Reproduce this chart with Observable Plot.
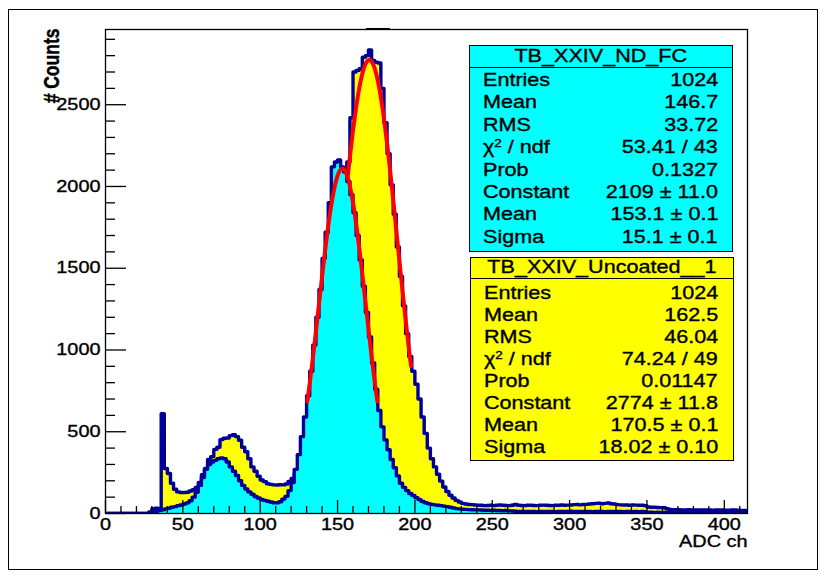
<!DOCTYPE html>
<html>
<head>
<meta charset="utf-8">
<script src="https://cdn.jsdelivr.net/npm/d3@7"></script>
<script src="https://cdn.jsdelivr.net/npm/@observablehq/plot@0.6"></script>
<style>
  html, body { margin: 0; padding: 0; background: #fff; }
  #wrap { position: relative; width: 826px; height: 582px; font-family: "Liberation Sans", Arial, sans-serif; }
  #wrap svg { position: absolute; left: 0; top: 0; }
  #wrap svg text { stroke: #000; stroke-width: 0.35px; }
  .outer { position: absolute; left: 8px; top: 9px; width: 810px; height: 561px; border: 1.5px solid #000; box-sizing: border-box; pointer-events: none; }
  .topmark { position: absolute; left: 366px; top: 27.5px; width: 24px; height: 2.5px; background: #000; }
  .stat { position: absolute; border: 1.5px solid #000; box-sizing: border-box; color: #000; font-size: 17.7px; -webkit-text-stroke: 0.35px #000; }
  .stat .hdr { position: absolute; left: 0; right: 0; top: 0; border-bottom: 1.5px solid #000; text-align: center; white-space: nowrap; }
  .stat .hdr span { display: inline-block; transform: scaleX(1.22); transform-origin: center; }
  .stat .row { position: absolute; left: 0; right: 0; white-space: nowrap; }
  .stat .row .l { position: absolute; transform: scaleX(1.22); transform-origin: left center; }
  .stat .row .v { position: absolute; transform: scaleX(1.22); transform-origin: right center; }
  sup { font-size: 0.62em; vertical-align: 0.55em; line-height: 0; }
</style>
</head>
<body>
<div id="wrap"></div>
<script>
// ---------------- data ----------------
const binStart = 0;
const binWidth = 2;  // ADC channels per bin

// TB_XXIV_Uncoated__1 (yellow), counts per 2-channel bin starting at channel 0
const uncoated = [
  0,0,0,0,0,0,0,0,0,0,0,0,0,0,           // 0-28
  10,30,32,30,610,275,245,185,148,132,   // 28-48
  128,128,130,138,145,160,190,238,275,330, // 48-68
  348,392,405,452,460,462,476,482,470,448, // 68-88
  405,378,335,285,258,228,205,195,182,178, // 88-108
  175,174,176,175,180,196,215,240,262,285, // 108-128
  320,370,440,520,610,720,850,990,1150,1320, // 128-148
  1490,1660,1840,2000,2150,2420,2700,2710,2720,2790, // 148-168
  2800,2835,2770,2760,2755,2600,2390,2200,2010,1830, // 168-188
  1630,1450,1270,1100,960,870,790,700,590,490,       // 188-208
  400,335,285,240,198,162,135,112,95,80,             // 208-228
  70,62,58,55,54,52,50,50,48,                        // 228-246
  49,50,48,50,52,50,49,48,50,55,50,49,48,50,50,49,48,50,51,50,49,48,50,50,52,50,51, // 246-300
  52,54,55,53,55,56,58,60,                           // 300-316
  62,63,60,62,64,60,58,                              // 316-330
  54,53,52,52,50,52,51,50,50,48,                     // 330-350
  40,38,38,37,36,35,30,                              // 350-364
  25,24,24,23,22,22,23,22,22,21,22,22,21,22,20,22,21,22,20,20,21,22,20, // 364-410
  18,18,16                                           // 410-416
];

// TB_XXIV_ND_FC (cyan), counts per 2-channel bin starting at channel 0
const ndfc = [
  0,0,0,0,0,0,0,0,0,0,0,0,0,0,0,         // 0-30
  8,14,18,22,28,32,38,42,48,52,          // 30-50
  58,65,78,100,130,172,220,270,300,315,  // 50-70
  325,335,340,335,315,285,258,232,200,172, // 70-90
  150,132,118,104,95,86,80,75,70,66,     // 90-110
  65,72,88,105,140,190,270,360,470,590,  // 110-130
  720,870,1030,1200,1370,1560,1720,1900,2120,2150, // 130-150
  2162,2120,2088,2030,1950,1840,1700,1550,1390,1230, // 150-170
  1080,920,760,630,530,450,390,330,280,230,          // 170-190
  185,160,140,122,110,96,85,73,66,60,                // 190-210
  56,53,50,48,45,42,38,34,30,28,                     // 210-230
  26,25,24,23,22,22,21,20,                           // 230-246
  20,19,20,18,18,17,18,16,15,14,                     // 246-266
  13,12,12,13,12,12,11,12,12,13,12,12,11,12,12,12,13,14,13,12,12,13,12,12,11,12,12,12,11,12,12,13,12,12,11,12,12,11,12,11,12,11, // 266-350
  8,8,7,8,7,7,8,7,7,7,8,7,7,7,6,7,7,7,6,7,7,7,6,7,7,6,7,6,7,6,6,6,6  // 350-416
];

// Gaussian fit parameters shown in the stat boxes
const fitNames    = ["TB_XXIV_Uncoated__1", "TB_XXIV_ND_FC"];
const fitConstant = [2774, 2109];
const fitMean     = [170.5, 153.1];
const fitSigma    = [18.02, 15.1];

// Axis ticks
const xMajor = [0, 50, 100, 150, 200, 250, 300, 350, 400];
const xMinor = [10,20,30,40,60,70,80,90,110,120,130,140,160,170,180,190,210,220,230,240,260,270,280,290,310,320,330,340,360,370,380,390,410];
const yMajor = [0, 500, 1000, 1500, 2000, 2500];
const yMinor = [100,200,300,400,600,700,800,900,1100,1200,1300,1400,1600,1700,1800,1900,2100,2200,2300,2400,2600,2700,2800,2900];

// Stat box contents
const statLabels = ["Entries", "Mean", "RMS", "χ<sup>2</sup> / ndf", "Prob", "Constant", "Mean", "Sigma"];
const statNDFC     = ["1024", "146.7", "33.72", "53.41 / 43", "0.1327", "2109 ± 11.0", "153.1 ± 0.1", "15.1 ± 0.1"];
const statUncoated = ["1024", "162.5", "46.04", "74.24 / 49", "0.01147", "2774 ± 11.8", "170.5 ± 0.1", "18.02 ± 0.10"];

// ---------------- build ----------------
function steps(vals) {
  const pts = vals.map((v, k) => ({x: binStart + k * binWidth, y: v}));
  pts.push({x: binStart + vals.length * binWidth, y: vals[vals.length - 1]});
  return pts;
}
function fitCurve(i) {
  const m = fitMean[i], s = fitSigma[i], c = fitConstant[i];
  const lo = m - 1.5 * s, hi = m + 1.5 * s, n = 120;
  return d3.range(n + 1).map(j => {
    const x = lo + (hi - lo) * j / n;
    return {x, y: c * Math.exp(-((x - m) ** 2) / (2 * s * s))};
  });
}

const W = 826, H = 582, mL = 105, mR = 79, mT = 29, mB = 69;
const innerW = W - mL - mR, innerH = H - mT - mB;
const navy = "#000099";
const fs = 16.3;

const yellowPts = steps(uncoated), cyanPts = steps(ndfc);

const chart = Plot.plot({
  width: W, height: H,
  marginLeft: mL, marginRight: mR, marginTop: mT, marginBottom: mB,
  x: {domain: [0, 415]},
  y: {domain: [0, 2960]},
  style: {fontFamily: '"Liberation Sans", Arial, sans-serif', fontSize: fs + "px", background: "transparent", overflow: "visible"},
  marks: [
    Plot.areaY(yellowPts, {x: "x", y: "y", curve: "step-after", fill: "#ffff00", clip: true}),
    Plot.line(yellowPts, {x: "x", y: "y", curve: "step-after", stroke: navy, strokeWidth: 3.4, clip: true}),
    Plot.line(fitCurve(0), {x: "x", y: "y", stroke: "#ff0000", strokeWidth: 4, clip: true}),
    Plot.areaY(cyanPts, {x: "x", y: "y", curve: "step-after", fill: "#00ffff", clip: true}),
    Plot.line(cyanPts, {x: "x", y: "y", curve: "step-after", stroke: navy, strokeWidth: 3.4, clip: true}),
    Plot.line(fitCurve(1), {x: "x", y: "y", stroke: "#ff0000", strokeWidth: 4, clip: true}),
    Plot.frame({stroke: "#000", strokeWidth: 1.3}),
    Plot.tickX(xMajor, {x: d => d, stroke: "#000", strokeWidth: 1.3, insetTop: innerH - 13}),
    Plot.tickX(xMinor, {x: d => d, stroke: "#000", strokeWidth: 1.3, insetTop: innerH - 7}),
    Plot.tickY(yMajor, {y: d => d, stroke: "#000", strokeWidth: 1.3, insetRight: innerW - 21}),
    Plot.tickY(yMinor, {y: d => d, stroke: "#000", strokeWidth: 1.3, insetRight: innerW - 10}),
    Plot.axisX(xMajor, {tickSize: 0, tickPadding: 5, fontSize: fs, fill: "#000", label: null, tickFormat: d => String(d)}),
    Plot.axisY(yMajor, {tickSize: 0, tickPadding: 5, fontSize: fs, fill: "#000", label: null, tickFormat: d => String(d)}),
    Plot.text(["ADC ch"], {frameAnchor: "bottom-right", textAnchor: "end", dy: 33.5, fontSize: fs, fill: "#000"}),
    Plot.text(["# Counts"], {frameAnchor: "top-left", textAnchor: "end", rotate: -90, dx: -61.5, dy: -1, fontSize: 17.5, fontWeight: "bold", fill: "#000"})
  ]
});

const wrap = document.getElementById("wrap");
wrap.appendChild(chart);

// horizontal stretch of all texts (the reference text is ~1.22x wider than its height suggests)
chart.querySelectorAll("text").forEach(t => {
  const tr = t.getAttribute("transform") || "";
  const rot = /rotate/.test(tr) || /rotate/.test(t.parentNode.getAttribute("transform") || "");
  const s = rot ? "scale(1,1.22)" : "scale(1.22,1)";
  if (tr) t.setAttribute("transform", tr + " " + s);
  else {
    const x = +(t.getAttribute("x") || 0), y = +(t.getAttribute("y") || 0);
    t.setAttribute("transform", `translate(${x},${y}) ${s} translate(${-x},${-y})`);
  }
});

// decorations
const outer = document.createElement("div"); outer.className = "outer"; wrap.appendChild(outer);
const tm = document.createElement("div"); tm.className = "topmark"; wrap.appendChild(tm);

// stat boxes
function statBox(name, values, bg, box) {
  const d = document.createElement("div");
  d.className = "stat";
  Object.assign(d.style, {left: box.left + "px", top: box.top + "px", width: box.width + "px", height: box.height + "px", background: bg});
  const h = document.createElement("div");
  h.className = "hdr";
  Object.assign(h.style, {height: box.hdr + "px", lineHeight: box.hdr + "px"});
  h.innerHTML = `<span>${name}</span>`;
  d.appendChild(h);
  statLabels.forEach((lab, i) => {
    const r = document.createElement("div");
    r.className = "row";
    Object.assign(r.style, {top: (box.row0 + i * box.rowH) + "px", height: box.rowH + "px", lineHeight: box.rowH + "px"});
    r.innerHTML = `<span class="l" style="left:${box.padL}px">${lab}</span><span class="v" style="right:${box.padR}px">${values[i]}</span>`;
    d.appendChild(r);
  });
  wrap.appendChild(d);
}
statBox(fitNames[1], statNDFC, "#00ffff", {left: 469, top: 45, width: 264, height: 207, hdr: 21, row0: 23, rowH: 22.4, padL: 13, padR: 14});
statBox(fitNames[0], statUncoated, "#ffff00", {left: 470, top: 257, width: 264, height: 204, hdr: 19.5, row0: 23.5, rowH: 22.1, padL: 13, padR: 15});
</script>
</body>
</html>
